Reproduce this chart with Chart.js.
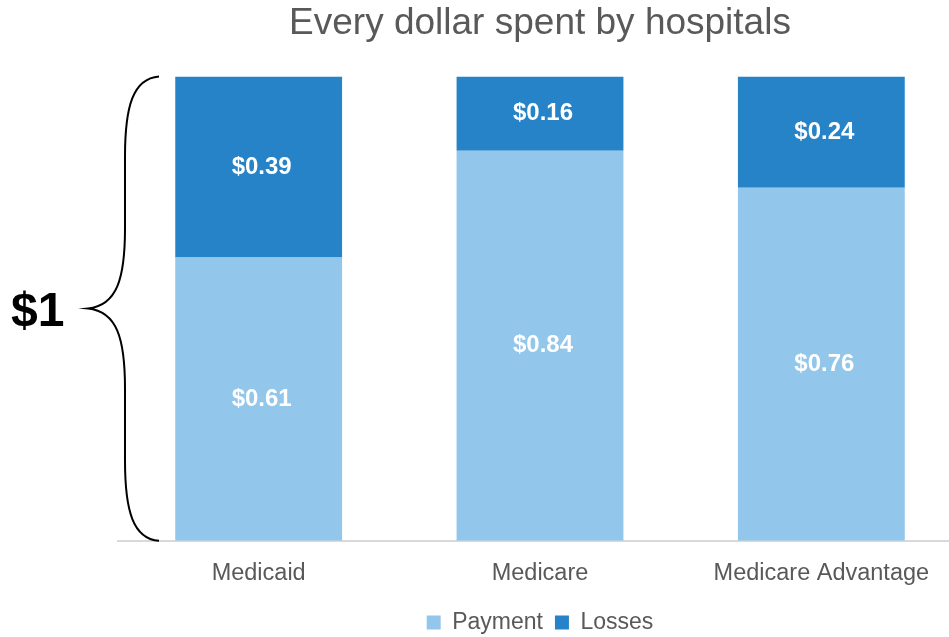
<!DOCTYPE html>
<html>
<head>
<meta charset="utf-8">
<script src="https://cdn.jsdelivr.net/npm/chart.js@4.4.0/dist/chart.umd.min.js"></script>
<style>
    html, body { margin: 0; padding: 0; background: #fff; overflow: hidden; }
    #wrap { width: 962px; height: 644px; }
</style>
</head>
<body>
<div id="wrap"><canvas id="chart"></canvas></div>
<script>
// Data
const categories = ['Medicaid', 'Medicare', 'Medicare Advantage'];
const paymentValues = [0.61, 0.84, 0.76];
const lossValues = [0.39, 0.16, 0.24];
const bracketLabel = '$1';

const FONT = '"Liberation Sans", Arial, sans-serif';
const GREY = '#595959';

// White value labels centred inside each bar segment
const segmentLabels = {
    id: 'segmentLabels',
    afterDatasetsDraw(chart) {
        const ctx = chart.ctx;
        ctx.save();
        ctx.fillStyle = '#ffffff';
        ctx.font = 'bold 24px ' + FONT;
        ctx.textAlign = 'center';
        ctx.textBaseline = 'middle';
        chart.data.datasets.forEach((ds, i) => {
            const meta = chart.getDatasetMeta(i);
            meta.data.forEach((bar, j) => {
                const midY = (bar.y + bar.base) / 2;
                ctx.fillText('$' + ds.data[j].toFixed(2), bar.x + 3, midY);
            });
        });
        ctx.restore();
    }
};

// Curly brace spanning the full dollar, with "$1" beside it
const dollarBrace = {
    id: 'dollarBrace',
    afterDraw(chart) {
        const ctx = chart.ctx;
        const y = chart.scales.y;
        const top = y.getPixelForValue(1);
        const bottom = y.getPixelForValue(0);
        const mid = (top + bottom) / 2;
        const endX = 159, spineX = 125, tipX = 88;

        ctx.save();
        ctx.strokeStyle = '#000';
        ctx.lineWidth = 2;
        ctx.beginPath();
        ctx.moveTo(endX, top);
        ctx.bezierCurveTo(spineX + 8, top + 2, spineX, top + 30, spineX, top + 80);
        ctx.lineTo(spineX, mid - 80);
        ctx.bezierCurveTo(spineX, mid - 30, spineX - 8, mid - 3, tipX, mid);
        ctx.bezierCurveTo(spineX - 8, mid + 3, spineX, mid + 30, spineX, mid + 80);
        ctx.lineTo(spineX, bottom - 80);
        ctx.bezierCurveTo(spineX, bottom - 30, spineX + 8, bottom - 2, endX, bottom);
        ctx.stroke();

        ctx.fillStyle = '#000';
        ctx.font = 'bold 48px ' + FONT;
        ctx.textAlign = 'left';
        ctx.textBaseline = 'middle';
        ctx.fillText(bracketLabel, 11, mid + 4);
        ctx.restore();
    }
};

new Chart(document.getElementById('chart'), {
    type: 'bar',
    data: {
        labels: categories,
        datasets: [
            {
                label: 'Payment',
                data: paymentValues,
                backgroundColor: '#93c6eb',
                categoryPercentage: 1,
                barPercentage: 0.593
            },
            {
                label: 'Losses',
                data: lossValues,
                backgroundColor: '#2683c8',
                categoryPercentage: 1,
                barPercentage: 0.593
            }
        ]
    },
    options: {
        responsive: true,
        maintainAspectRatio: false,
        animation: false,
        layout: {
            padding: { left: 118, right: 0, top: 2, bottom: 0 }
        },
        plugins: {
            title: {
                display: true,
                text: 'Every dollar spent by hospitals',
                color: GREY,
                font: { family: FONT, size: 37, weight: 'normal' },
                padding: { top: 0, bottom: 30 }
            },
            legend: {
                position: 'bottom',
                labels: {
                    color: GREY,
                    font: { family: FONT, size: 23 },
                    boxWidth: 14,
                    boxHeight: 14,
                    padding: 12
                }
            },
            tooltip: { enabled: false }
        },
        scales: {
            x: {
                stacked: true,
                grid: { display: false },
                border: { display: true, color: '#d9d9d9', width: 2 },
                ticks: {
                    color: GREY,
                    font: { family: FONT, size: 23.5 },
                    padding: 11
                }
            },
            y: {
                stacked: true,
                display: false,
                min: 0,
                max: 1
            }
        }
    },
    plugins: [segmentLabels, dollarBrace]
});
</script>
</body>
</html>
